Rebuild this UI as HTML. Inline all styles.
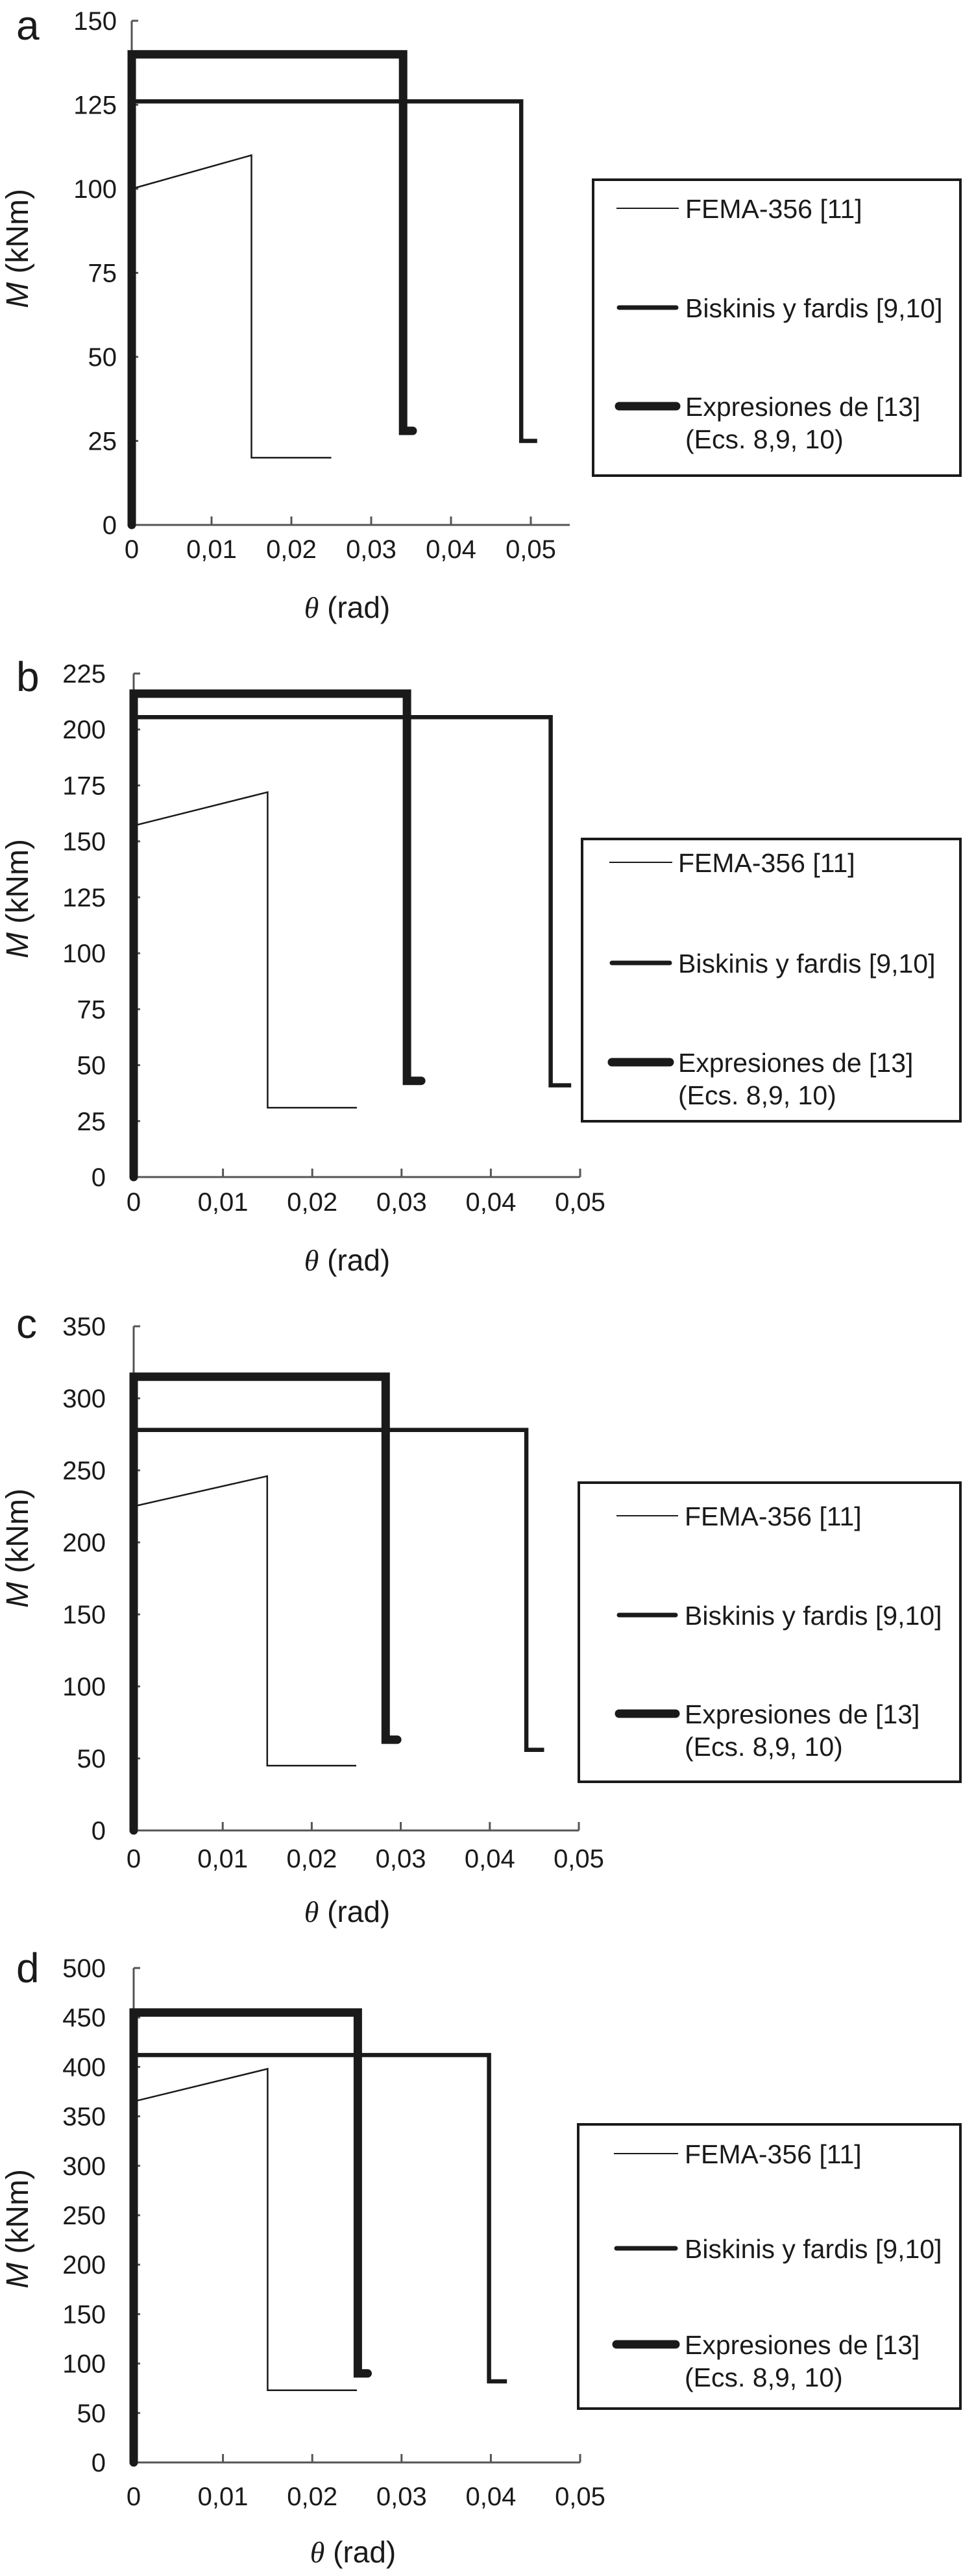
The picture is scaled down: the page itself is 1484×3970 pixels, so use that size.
<!DOCTYPE html>
<html><head><meta charset="utf-8"><style>
html,body{margin:0;padding:0;background:#fff}
svg{display:block}
text{font-family:"Liberation Sans",Arial,sans-serif;fill:#1a1a1a}
</style></head><body>
<svg id="fig" xmlns="http://www.w3.org/2000/svg" width="1484" height="3970" viewBox="0 0 1484 3970"></svg>
<script>
// ---- data (theta in rad, M in kNm) ----
const xTickValues = [0, 0.01, 0.02, 0.03, 0.04, 0.05];
const xTickLabels = ["0", "0,01", "0,02", "0,03", "0,04", "0,05"];
const legendLabels = ["FEMA-356 [11]", "Biskinis y fardis [9,10]", "Expresiones de [13]"];
const legendSubLabel = "(Ecs. 8,9, 10)";

const yTicksA = [0, 25, 50, 75, 100, 125, 150];
const femaThetaA = [0, 0.015, 0.015, 0.025];
const femaMomentA = [100, 110, 20, 20];
const biskThetaA = [0, 0, 0.0488, 0.0488, 0.0508];
const biskMomentA = [0, 126, 126, 25, 25];
const exprThetaA = [0, 0, 0.034, 0.034, 0.0352];
const exprMomentA = [0, 140, 140, 28, 28];

const yTicksB = [0, 25, 50, 75, 100, 125, 150, 175, 200, 225];
const femaThetaB = [0, 0.015, 0.015, 0.025];
const femaMomentB = [157, 172, 31, 31];
const biskThetaB = [0, 0, 0.0467, 0.0467, 0.049];
const biskMomentB = [0, 205.5, 205.5, 41, 41];
const exprThetaB = [0, 0, 0.0306, 0.0306, 0.0322];
const exprMomentB = [0, 216, 216, 43, 43];

const yTicksC = [0, 50, 100, 150, 200, 250, 300, 350];
const femaThetaC = [0, 0.015, 0.015, 0.025];
const femaMomentC = [225, 246, 45, 45];
const biskThetaC = [0, 0, 0.0441, 0.0441, 0.0461];
const biskMomentC = [0, 278, 278, 56, 56];
const exprThetaC = [0, 0, 0.0283, 0.0283, 0.0296];
const exprMomentC = [0, 315, 315, 63, 63];

const yTicksD = [0, 50, 100, 150, 200, 250, 300, 350, 400, 450, 500];
const femaThetaD = [0, 0.015, 0.015, 0.025];
const femaMomentD = [365, 398, 73, 73];
const biskThetaD = [0, 0, 0.0398, 0.0398, 0.0418];
const biskMomentD = [0, 412, 412, 82, 82];
const exprThetaD = [0, 0, 0.0251, 0.0251, 0.0262];
const exprMomentD = [0, 455, 455, 90, 90];

// ---- layout (pixels) ----
const panels = [
 {id:"a", yTicks:yTicksA, fema:[femaThetaA,femaMomentA], bisk:[biskThetaA,biskMomentA], expr:[exprThetaA,exprMomentA],
  x0:203, xEnd:818, axisEnd:878, y0:809, yTop:32, labelRight:180, xLabY:860, thetaY:952, thetaX:535,
  letterY:61, yTitleY:383, box:[912,275,570,460], legX1:950, legX2:1046, legTx:1056, legY:[321,474,626]},
 {id:"b", yTicks:yTicksB, fema:[femaThetaB,femaMomentB], bisk:[biskThetaB,biskMomentB], expr:[exprThetaB,exprMomentB],
  x0:206, xEnd:894, axisEnd:894, y0:1814, yTop:1038, labelRight:163, xLabY:1866, thetaY:1958, thetaX:535,
  letterY:1065, yTitleY:1385, box:[895,1291,587,439], legX1:939, legX2:1036, legTx:1045, legY:[1329,1484,1637]},
 {id:"c", yTicks:yTicksC, fema:[femaThetaC,femaMomentC], bisk:[biskThetaC,biskMomentC], expr:[exprThetaC,exprMomentC],
  x0:206, xEnd:892, axisEnd:892, y0:2821, yTop:2044, labelRight:163, xLabY:2878, thetaY:2962, thetaX:535,
  letterY:2062, yTitleY:2386, box:[890,2283,592,465], legX1:950, legX2:1045, legTx:1055, legY:[2336,2489,2641]},
 {id:"d", yTicks:yTicksD, fema:[femaThetaD,femaMomentD], bisk:[biskThetaD,biskMomentD], expr:[exprThetaD,exprMomentD],
  x0:206, xEnd:894, axisEnd:894, y0:3795, yTop:3033, labelRight:163, xLabY:3861, thetaY:3949, thetaX:544,
  letterY:3055, yTitleY:3435, box:[889,3272,593,442], legX1:946, legX2:1045, legTx:1055, legY:[3319,3465,3613]}
];
const NS = "http://www.w3.org/2000/svg";
const svg = document.getElementById("fig");
function mk(tag, attrs, parent){ const e=document.createElementNS(NS,tag); for(const k in attrs) e.setAttribute(k,attrs[k]); (parent||svg).appendChild(e); return e; }

panels.forEach(p=>{
  const g = mk("g",{});
  
  
  const ymax = p.yTicks[p.yTicks.length-1];
  const sx = v => p.x0 + v*(p.xEnd-p.x0)/0.05;
  const sy = v => p.y0 - v*(p.y0-p.yTop)/ymax;

  // panel letter
  const L = mk("text",{x:25,y:p.letterY,"font-size":64},g); L.textContent=p.id;
  
  

  // axes
  const ya = mk("line",{x1:p.x0,y1:p.y0,x2:p.x0,y2:p.yTop,stroke:"#555","stroke-width":3},g);
  
  
  const xa = mk("line",{x1:p.x0,y1:p.y0,x2:p.axisEnd,y2:p.y0,stroke:"#555","stroke-width":3},g);
  
  

  p.yTicks.forEach(v=>{
    const t = mk("line",{x1:p.x0,y1:sy(v),x2:p.x0+10,y2:sy(v),stroke:"#555","stroke-width":3},g);
    
    
    const lb = mk("text",{x:p.labelRight,y:sy(v)+14,"font-size":40,"text-anchor":"end"},g); lb.textContent=String(v);
    
    
  });
  xTickValues.forEach((v,i)=>{
    if(i>0){
      const t = mk("line",{x1:sx(v),y1:p.y0,x2:sx(v),y2:p.y0-13,stroke:"#555","stroke-width":3},g);
      
      
    }
    const lb = mk("text",{x:sx(v),y:p.xLabY,"font-size":40,"text-anchor":"middle"},g); lb.textContent=xTickLabels[i];
    
    
  });

  // axis titles
  const yt = mk("text",{x:0,y:0,"font-size":48,"text-anchor":"middle",transform:`translate(43,${p.yTitleY}) rotate(-90)`},g);
  yt.innerHTML = '<tspan font-style="italic">M</tspan> (kNm)';
  
  
  const xt = mk("text",{x:p.thetaX,y:p.thetaY,"font-size":46,"text-anchor":"middle"},g);
  xt.innerHTML = '<tspan font-style="italic" font-family="Liberation Serif">θ</tspan> (rad)';
  
  

  // series
  const series = [["fema",p.fema,2.5,"butt"],["biskinis",p.bisk,6.5,"butt"],["expresiones",p.expr,13,"round"]];
  series.forEach(([nm,arr,w,cap])=>{
    const pts = arr[0].map((t,i)=>sx(t).toFixed(1)+","+sy(arr[1][i]).toFixed(1)).join(" ");
    const pl = mk("polyline",{points:pts,fill:"none",stroke:"#1a1a1a","stroke-width":w,"stroke-linejoin":"miter","stroke-linecap":cap},g);
    
    
  });

  // legend
  const lg = mk("g",{},g);
  
  
  const b = p.box;
  const r = mk("rect",{x:b[0]+2,y:b[1]+2,width:b[2]-4,height:b[3]-4,fill:"#fff",stroke:"#1a1a1a","stroke-width":4},lg);
  
  
  const widths=[2,7,13], caps=["butt","round","round"];
  legendLabels.forEach((lab,i)=>{
    const ln = mk("line",{x1:p.legX1+(i?4:0),y1:p.legY[i],x2:p.legX2-(i?4:0),y2:p.legY[i],stroke:"#1a1a1a","stroke-width":widths[i],"stroke-linecap":caps[i]},lg);
    
    
    const tx = mk("text",{x:p.legTx,y:p.legY[i]+15,"font-size":41},lg); tx.textContent=lab;
    
    
  });
  const sub = mk("text",{x:p.legTx,y:p.legY[2]+65,"font-size":41},lg); sub.textContent=legendSubLabel;
  
  
});
</script>
</body></html>
